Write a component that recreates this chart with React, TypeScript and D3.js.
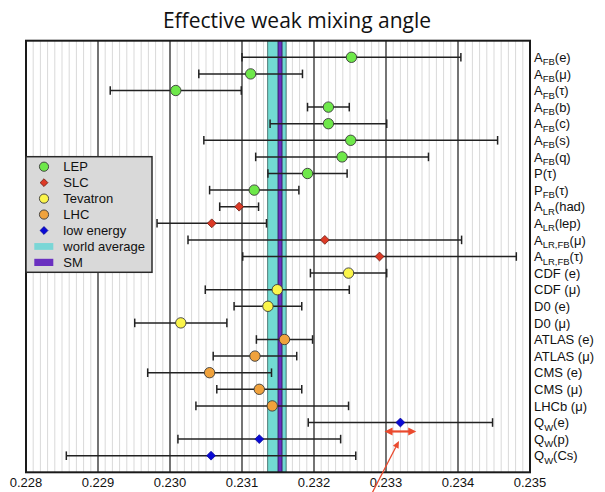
import React from 'react';
import * as d3 from 'd3';

// ---- data ----
const labelMain = ["A","A","A","A","A","A","A","P","P","A","A","A","A","CDF (e)","CDF (μ)","D0 (e)","D0 (μ)","ATLAS (e)","ATLAS (μ)","CMS (e)","CMS (μ)","LHCb (μ)","Q","Q","Q"];
const labelSub = ["FB","FB","FB","FB","FB","FB","FB","","FB","LR","LR","LR,FB","LR,FB","","","","","","","","","","W","W","W"];
const labelTail = ["(e)","(μ)","(τ)","(b)","(c)","(s)","(q)","(τ)","(τ)","(had)","(lep)","(μ)","(τ)","","","","","","","","","","(e)","(p)","(Cs)"];
const centralValues = [0.23252,0.23112,0.23008,0.23220,0.23220,0.23251,0.23239,0.23191,0.23117,0.23096,0.23058,0.23215,0.23291,0.23248,0.23149,0.23136,0.23015,0.23159,0.23118,0.23055,0.23124,0.23142,0.23320,0.23124,0.23057];
const errors = [0.00152,0.00072,0.00091,0.00029,0.00081,0.00204,0.00120,0.00055,0.00062,0.00027,0.00076,0.00190,0.00190,0.00053,0.00100,0.00047,0.00064,0.00039,0.00058,0.00086,0.00059,0.00106,0.00128,0.00113,0.00201];
const groups = ["LEP","LEP","LEP","LEP","LEP","LEP","LEP","LEP","LEP","SLC","SLC","SLC","SLC","Tevatron","Tevatron","Tevatron","Tevatron","LHC","LHC","LHC","LHC","LHC","low energy","low energy","low energy"];
const groupNames = ["LEP","SLC","Tevatron","LHC","low energy"];
const groupColors = ["#6ee84a","#dd3a26","#fbf54a","#f0a23c","#0a0ad6"];
const groupShapes = ["circle","diamond","circle","circle","diamond"];
const tickValues = [0.228,0.229,0.230,0.231,0.232,0.233,0.234,0.235];
const tickLabels = ["0.228","0.229","0.230","0.231","0.232","0.233","0.234","0.235"];
const worldAverage = 0.231485;
const worldAverageErr = 0.000128;
const smValue = 0.231528;
const smErr = 0.000028;
const arrowCenter = 0.2332;
const arrowHalfWidth = 0.00022;
const pointerTail = 0.23280;
const pointerTip = 0.23318;

export default function App() {
  const W = 605, H = 492;
  const left = 26, right = 530, top = 40.7, bottom = 472.3;
  const x = d3.scaleLinear().domain([0.228, 0.235]).range([left, right]);
  const ids = labelMain.map((_, i) => String(i));
  const y = d3.scalePoint<string>().domain(ids).range([top, bottom]).padding(1);
  const step = y.step();
  const minor = d3.range(1, 70).map(i => 0.228 + i * 0.0001).filter(v => Math.abs(Math.round(v * 1000) - v * 1000) > 1e-6);

  const marker = (g: string, cx: number, cy: number, key: string, r = 5.2) => {
    const gi = groupNames.indexOf(g);
    const col = groupColors[gi];
    if (groupShapes[gi] === 'circle') {
      return <circle key={key} cx={cx} cy={cy} r={r} fill={col} stroke="#3a3a3a" strokeWidth={0.9} />;
    }
    const d = r * 0.85;
    const stroke = g === 'low energy' ? '#0a0a9a' : '#6a1a10';
    return <polygon key={key} points={`${cx},${cy - d} ${cx + d},${cy} ${cx},${cy + d} ${cx - d},${cy}`} fill={col} stroke={stroke} strokeWidth={0.8} />;
  };

  const qi = 22;
  const ay = (y(String(qi)) as number) + step * 0.54;
  const ax0 = x(arrowCenter - arrowHalfWidth), ax1 = x(arrowCenter + arrowHalfWidth);
  const red = '#ea4a2e';
  const tipX = x(pointerTip), tipY = (y(String(qi)) as number) + step * 1.12;
  const tailX = x(pointerTail), tailY = H + 2;
  const dx = tipX - tailX, dy = tipY - tailY, len = Math.hypot(dx, dy);
  const ux = dx / len, uy = dy / len;
  const hl = 7, hw = 3.2;
  const bx = tipX - ux * hl, by = tipY - uy * hl;

  const legendY0 = 166.7, legendStep = 15.95;
  const legendItems = [...groupNames, 'world average', 'SM'];

  return (
    <svg width={W} height={H} style={{ position: 'absolute', left: 0, top: 0, background: '#fff' }} fontFamily="'Liberation Sans', Arial, sans-serif">
      <rect x={0} y={0} width={W} height={H} fill="#fff" />
      <text x={297} y={28} textAnchor="middle" fontFamily="'Open Sans', sans-serif" fontSize={21} fill="#111">Effective weak mixing angle</text>
      {/* minor grid */}
      {minor.map((v, i) => (
        <line key={'m' + i} x1={x(v)} x2={x(v)} y1={top} y2={bottom} stroke="#d9d9d9" strokeWidth={1} />
      ))}
      {/* bands */}
      <rect x={x(worldAverage - worldAverageErr)} y={top} width={x(worldAverage + worldAverageErr) - x(worldAverage - worldAverageErr)} height={bottom - top} fill="#72dad2" stroke="#2f5f5a" strokeWidth={0.8} />
      <rect x={x(smValue - smErr)} y={top} width={x(smValue + smErr) - x(smValue - smErr)} height={bottom - top} fill="#6a30c0" stroke="#2a1450" strokeWidth={0.8} />
      {/* major grid */}
      {tickValues.slice(1, -1).map((v, i) => (
        <line key={'M' + i} x1={x(v)} x2={x(v)} y1={top} y2={bottom} stroke="#2a2a2a" strokeWidth={1.3} />
      ))}
      {/* error bars */}
      {centralValues.map((v, i) => {
        const cy = y(String(i)) as number;
        const x0 = x(v - errors[i]), x1 = x(v + errors[i]);
        return (
          <g key={'e' + i}>
            <line x1={x0} x2={x1} y1={cy} y2={cy} stroke="#222" strokeWidth={1.5} />
            <line x1={x0} x2={x0} y1={cy - 4.3} y2={cy + 4.3} stroke="#222" strokeWidth={1.5} />
            <line x1={x1} x2={x1} y1={cy - 4.3} y2={cy + 4.3} stroke="#222" strokeWidth={1.5} />
          </g>
        );
      })}
      {centralValues.map((v, i) => marker(groups[i], x(v), y(String(i)) as number, 'p' + i))}
      {/* border */}
      <rect x={left} y={top} width={right - left} height={bottom - top} fill="none" stroke="#1a1a1a" strokeWidth={2} />
      {/* legend */}
      <rect x={left} y={156.7} width={126} height={115.6} fill="#d9d9d9" stroke="#2a2a2a" strokeWidth={1.5} />
      {legendItems.map((name, i) => {
        const ly = legendY0 + legendStep * i;
        let sym;
        if (i < 5) sym = marker(name, 44, ly, 'lm' + i, 4.6);
        else if (i === 5) sym = <rect x={34.3} y={ly - 3.4} width={19} height={6.8} fill="#7ad6d6" />;
        else sym = <rect x={34.3} y={ly - 3.6} width={19} height={7.2} fill="#6a30c0" />;
        return (
          <g key={'l' + i}>
            {sym}
            <text x={63.3} y={ly + 4.6} fontSize={13} fill="#111">{name}</text>
          </g>
        );
      })}
      {/* right labels */}
      {labelMain.map((m, i) => {
        const cy = (y(String(i)) as number) + 4.6;
        return (
          <text key={'r' + i} x={534} y={cy} fontSize={13} fill="#111">
            {m}
            {labelSub[i] && <tspan fontSize={9.5} dy={3.5}>{labelSub[i]}</tspan>}
            {labelTail[i] && <tspan fontSize={13} dy={labelSub[i] ? -3.5 : 0}>{labelTail[i]}</tspan>}
          </text>
        );
      })}
      {/* x tick labels */}
      {tickValues.map((v, i) => (
        <text key={'t' + i} x={x(v)} y={486.5} textAnchor="middle" fontSize={13} fill="#111">{tickLabels[i]}</text>
      ))}
      {/* annotation arrows */}
      <line x1={ax0 + 5} x2={ax1 - 5} y1={ay} y2={ay} stroke={red} strokeWidth={2.2} />
      <polygon points={`${ax0},${ay} ${ax0 + 8},${ay - 4} ${ax0 + 8},${ay + 4}`} fill={red} />
      <polygon points={`${ax1},${ay} ${ax1 - 8},${ay - 4} ${ax1 - 8},${ay + 4}`} fill={red} />
      <line x1={tailX} y1={tailY} x2={bx} y2={by} stroke={red} strokeWidth={1.3} />
      <polygon points={`${tipX},${tipY} ${bx - uy * hw},${by + ux * hw} ${bx + uy * hw},${by - ux * hw}`} fill={red} />
    </svg>
  );
}
